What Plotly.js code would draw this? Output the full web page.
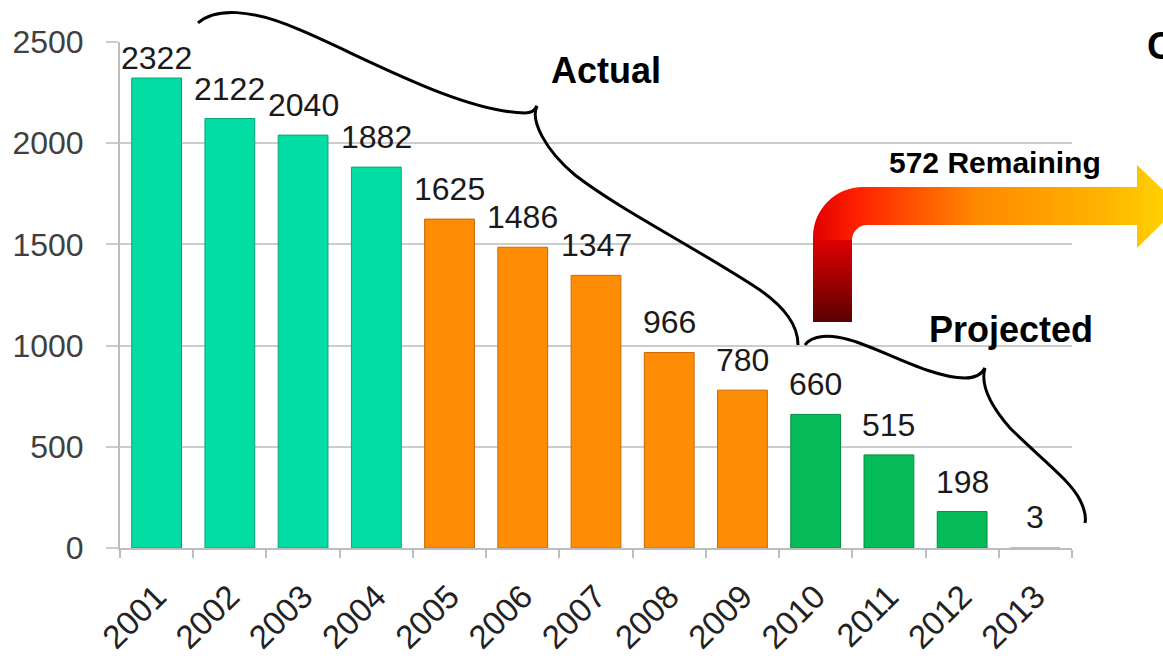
<!DOCTYPE html>
<html>
<head>
<meta charset="utf-8">
<script src="https://cdn.plot.ly/plotly-3.0.1.min.js"></script>
<style>html,body{margin:0;padding:0;background:#fff;}#chart{width:1163px;height:658px;}</style>
</head>
<body>
<div id="chart"></div>
<script>
// ---- data ----
var years = ["2001","2002","2003","2004","2005","2006","2007","2008","2009","2010","2011","2012","2013"];
var barValues = [2322, 2122, 2040, 1882, 1625, 1486, 1347, 966, 780, 660, 460, 180, 3];
var labelText = ["2322","2122","2040","1882","1625","1486","1347","966","780","660","515","198","3"];
var yTicks = [0, 500, 1000, 1500, 2000, 2500];

// ---- styling helpers ----
function barColor(y){
  var n = parseInt(y,10);
  if (n <= 2004) return "#03DDA3";
  if (n <= 2009) return "#FF8C05";
  return "#06BC58";
}
function edgeColor(y){
  var n = parseInt(y,10);
  if (n <= 2004) return "#06A67D";
  if (n <= 2009) return "#C86A00";
  return "#058A42";
}
var L = 120, R = 1072, T = 42, B = 548;
var YMAX = 2500;
function px(x){ return (x - L) / (R - L); }
function py(y){ return (B - y) / (B - T); }
function path(pts){
  return pts.replace(/(-?\d+(?:\.\d+)?),(-?\d+(?:\.\d+)?)/g, function(m,a,b){
    return px(+a).toFixed(5) + "," + py(+b).toFixed(5);
  });
}

var bars = {
  type: "bar", x: years, y: barValues,
  marker: { color: years.map(barColor),
            line: { color: years.map(edgeColor), width: barValues.map(function(v){ return v > 10 ? 1 : 0; }) } },
  hoverinfo: "skip"
};

// value labels: anchored to bar tops (category index on x), kept below the top of the plot
var labelFont = { family: "Liberation Sans, Arial, sans-serif", size: 32, color: "#1a1a1a" };
var valueLabels = years.map(function(yr, i){
  var barTopPx = B - barValues[i] / YMAX * (B - T);
  var shift = Math.min(10, barTopPx - 78);
  return { x: i, y: barValues[i], xref: "x", yref: "y", text: labelText[i],
           showarrow: false, xanchor: "center", yanchor: "bottom", yshift: shift,
           font: labelFont };
});

// arrow drawn as SVG image in figure pixel coordinates
var svg = '<svg xmlns="http://www.w3.org/2000/svg" width="1163" height="658" viewBox="0 0 1163 658">' +
  '<defs>' +
  '<linearGradient id="h" gradientUnits="userSpaceOnUse" x1="813" y1="0" x2="1178" y2="0">' +
  '<stop offset="0" stop-color="#e00000"/><stop offset="0.12" stop-color="#ff2000"/>' +
  '<stop offset="0.45" stop-color="#ff8a00"/><stop offset="0.8" stop-color="#ffb400"/>' +
  '<stop offset="1" stop-color="#ffd800"/></linearGradient>' +
  '<linearGradient id="v" gradientUnits="userSpaceOnUse" x1="0" y1="322" x2="0" y2="238">' +
  '<stop offset="0" stop-color="#5a0000"/><stop offset="0.5" stop-color="#a00000"/>' +
  '<stop offset="1" stop-color="#e00000"/></linearGradient>' +
  '</defs>' +
  '<path d="M813,242 L813,237 A50,50 0 0 1 863,187 L1137,187 L1137,165 L1180,206 L1137,248 L1137,225 L867,225 A15,15 0 0 0 852,240 L852,242 Z" fill="url(#h)"/>' +
  '<rect x="813" y="240" width="39" height="82" fill="url(#v)"/>' +
  '</svg>';
var svgUri = "data:image/svg+xml;charset=utf-8," + encodeURIComponent(svg);

var braceStyle = { color: "#000", width: 3 };
var shapes = [
  { type: "path", xref: "paper", yref: "paper", line: braceStyle,
    path: path("M198,23 C215,8 250,8 300,30 C360,55 460,112 525,113 C531,113 535,110 537,106") },
  { type: "path", xref: "paper", yref: "paper", line: braceStyle,
    path: path("M537,106 C530,120 545,150 575,175 C620,210 700,250 760,290 C785,308 798,325 798,345") },
  { type: "path", xref: "paper", yref: "paper", line: braceStyle,
    path: path("M805,345 C812,335 830,334 850,340 C880,348 930,378 965,378 C975,378 982,374 985,368") },
  { type: "path", xref: "paper", yref: "paper", line: braceStyle,
    path: path("M985,368 C980,385 990,405 1010,428 C1040,458 1070,480 1080,500 C1085,510 1086,518 1085,523") }
];

var boldFont = function(s){ return { family: "Liberation Sans, Arial, sans-serif", size: s, color: "#000" }; };
var annotations = [
  { text: "<b>Actual</b>", xref: "paper", yref: "paper", x: px(606), y: py(70), showarrow: false, font: boldFont(36), xanchor: "center", yanchor: "middle" },
  { text: "<b>572 Remaining</b>", xref: "paper", yref: "paper", x: px(995), y: py(163), showarrow: false, font: boldFont(30), xanchor: "center", yanchor: "middle" },
  { text: "<b>Projected</b>", xref: "paper", yref: "paper", x: px(1011), y: py(329), showarrow: false, font: boldFont(36), xanchor: "center", yanchor: "middle" },
  { text: "<b>C</b>", xref: "paper", yref: "paper", x: px(1145), y: py(46), showarrow: false, font: boldFont(38), xanchor: "left", yanchor: "middle" }
].concat(valueLabels);

var layout = {
  width: 1163, height: 658,
  margin: { l: L, r: 1163 - R, t: T, b: 658 - B, pad: 0 },
  paper_bgcolor: "#fff", plot_bgcolor: "#fff",
  showlegend: false, bargap: 0.32,
  xaxis: {
    type: "category", range: [-0.5, 12.5], tickangle: -45,
    ticks: "outside", tickson: "boundaries", ticklen: 8, tickwidth: 2, tickcolor: "#bdbdbd",
    showline: true, linecolor: "#bdbdbd", linewidth: 2, showgrid: false,
    ticklabelstandoff: 14,
    tickfont: { family: "Liberation Sans, Arial, sans-serif", size: 33, color: "#222" }
  },
  yaxis: {
    range: [0, YMAX], tickvals: yTicks, ticktext: yTicks.map(String),
    showgrid: true, gridcolor: "#cccccc", gridwidth: 2, zeroline: false,
    showline: true, linecolor: "#bdbdbd", linewidth: 2,
    ticks: "outside", ticklen: 12, tickwidth: 2, tickcolor: "#cccccc",
    ticklabelstandoff: 16,
    tickfont: { family: "Liberation Sans, Arial, sans-serif", size: 32, color: "#404040" }
  },
  shapes: shapes,
  annotations: annotations,
  images: [{
    source: svgUri, xref: "paper", yref: "paper",
    x: px(0), y: py(0), sizex: 1163 / (R - L), sizey: 658 / (B - T),
    xanchor: "left", yanchor: "top", sizing: "stretch", layer: "above"
  }]
};

Plotly.newPlot("chart", [bars], layout, { displayModeBar: false, staticPlot: true });
</script>
</body>
</html>
